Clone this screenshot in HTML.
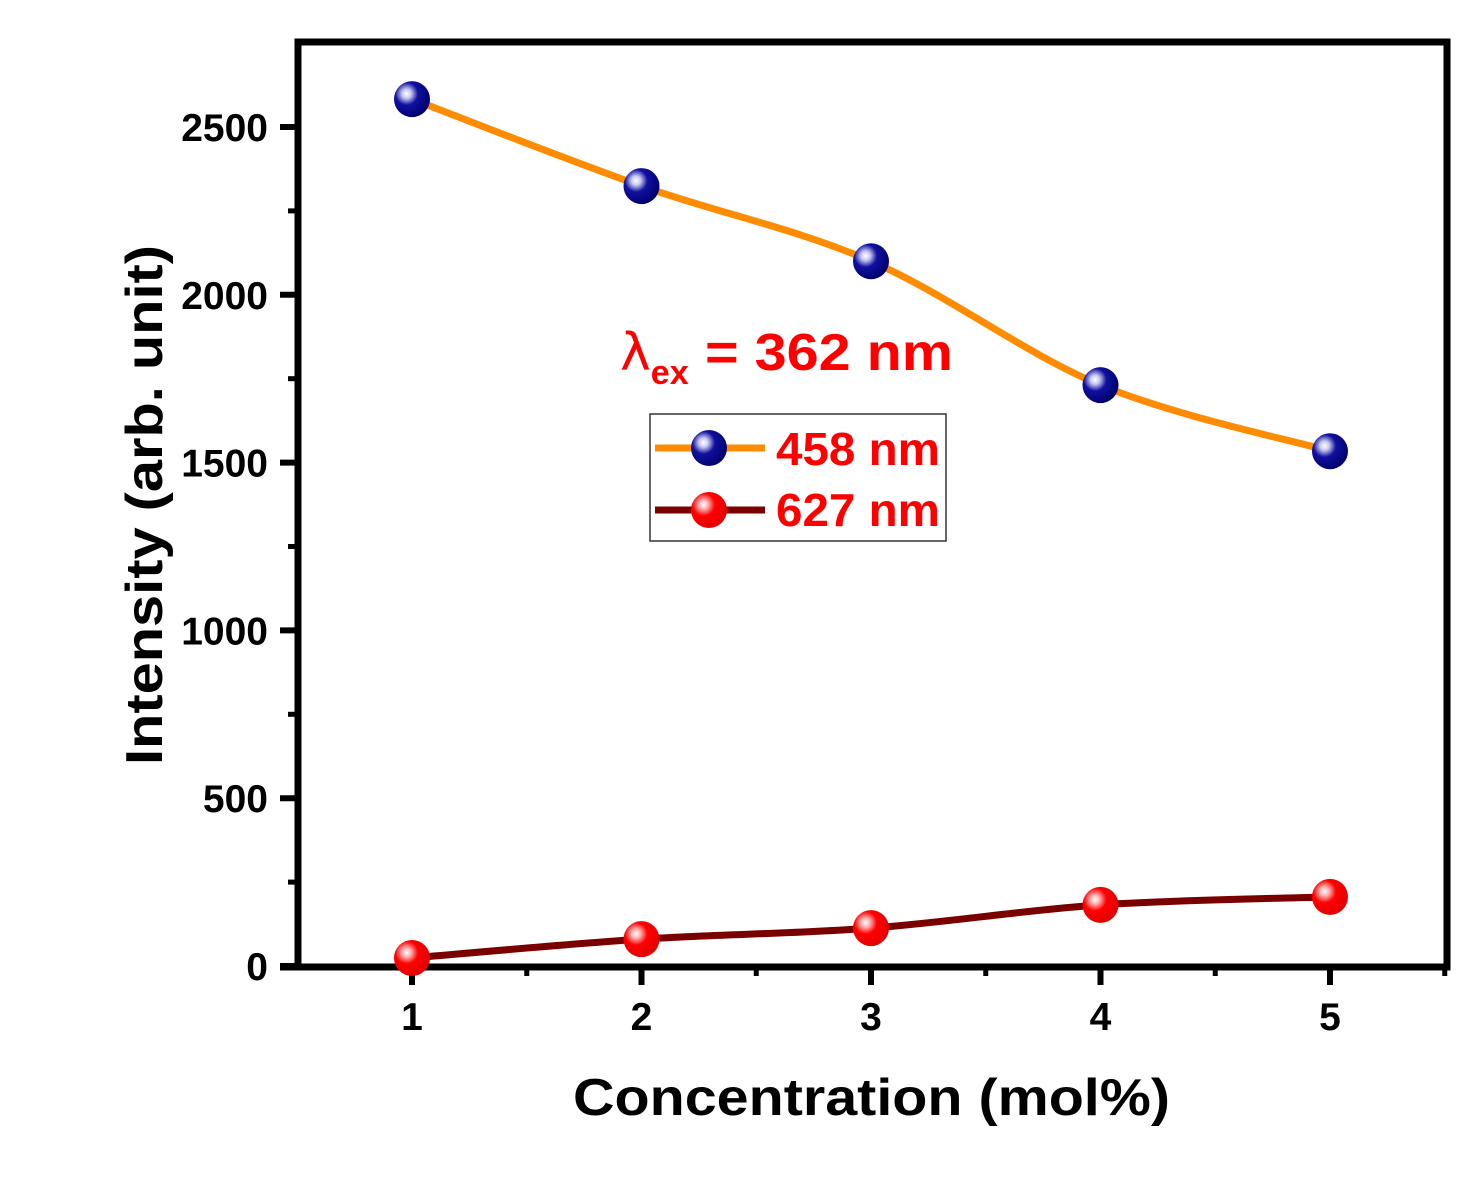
<!DOCTYPE html>
<html><head><meta charset="utf-8"><style>
body{margin:0;background:#fff;}
text{font-family:"Liberation Sans",Arial,sans-serif;font-weight:bold;}
</style></head><body>
<svg id="chart" width="1483" height="1181" xmlns="http://www.w3.org/2000/svg">
<defs>
<radialGradient id="gBlue" cx="0.35" cy="0.35" r="0.7"><stop offset="0" stop-color="#fff"/><stop offset="0.18" stop-color="#c8c8f0"/><stop offset="0.45" stop-color="#1010a0"/><stop offset="1" stop-color="#00006a"/></radialGradient>
<radialGradient id="gRed" cx="0.35" cy="0.35" r="0.7"><stop offset="0" stop-color="#fff"/><stop offset="0.18" stop-color="#ffb0b0"/><stop offset="0.45" stop-color="#ff0000"/><stop offset="1" stop-color="#e00000"/></radialGradient>
</defs>
<g id="axes"></g>
<g id="series"></g>
<text x="573" y="1115" font-size="52" textLength="597" lengthAdjust="spacingAndGlyphs">Concentration (mol%)</text>
<text transform="translate(162,765) rotate(-90)" font-size="52" textLength="520" lengthAdjust="spacingAndGlyphs">Intensity (arb. unit)</text>
<text x="620" y="370" font-size="52" fill="#ff0000"><tspan font-family="DejaVu Sans,sans-serif" font-weight="normal">λ</tspan><tspan font-size="34" dy="14">ex</tspan><tspan dy="-14" x="705" textLength="248" lengthAdjust="spacingAndGlyphs">= 362 nm</tspan></text>
<g>
<rect x="650" y="414" width="296" height="127" fill="#fff" stroke="#333" stroke-width="1.5"/>
<line x1="655" y1="448" x2="765" y2="448" stroke="#ff8c00" stroke-width="7"/>
<circle cx="709" cy="448" r="18" fill="url(#gBlue)"/>
<text x="776" y="465" font-size="46" fill="#ff0000" textLength="164" lengthAdjust="spacingAndGlyphs">458 nm</text>
<line x1="655" y1="510" x2="765" y2="510" stroke="#7a0000" stroke-width="7"/>
<circle cx="709" cy="510" r="18" fill="url(#gRed)"/>
<text x="776" y="526" font-size="46" fill="#ff0000" textLength="164" lengthAdjust="spacingAndGlyphs">627 nm</text>
</g>
</svg>
<script>
const categories=[1,2,3,4,5];
const series458=[2583,2324,2100,1731,1534];
const series627=[24,80,113,182,206];
const yTicks=[0,500,1000,1500,2000,2500];
const xTicks=[1,2,3,4,5];
const NS="http://www.w3.org/2000/svg";
const L=298,R=1447,T=42,B=967;
const xs=v=>412+(v-1)*229.5;
const ys=v=>966-v*0.3356;
function mk(tag,attrs,parent){const e=document.createElementNS(NS,tag);for(const k in attrs)e.setAttribute(k,attrs[k]);parent.appendChild(e);return e;}
const ax=document.getElementById('axes');
const fr=mk('rect',{x:L,y:T,width:R-L,height:B-T,fill:'none',stroke:'#000','stroke-width':7},ax);


mk('line',{x1:280,y1:B,x2:L,y2:B,stroke:'#000','stroke-width':7},ax);
yTicks.forEach(v=>{const y=ys(v);
mk('line',{x1:280,y1:y,x2:L,y2:y,stroke:'#000','stroke-width':6},ax);
const t=mk('text',{x:268,y:y+14,'text-anchor':'end','font-size':39},ax);t.textContent=v;


if(v<2500){mk('line',{x1:288,y1:ys(v+250),x2:L,y2:ys(v+250),stroke:'#000','stroke-width':5},ax);}
});
xTicks.forEach(v=>{const x=xs(v);
mk('line',{x1:x,y1:B,x2:x,y2:B+18,stroke:'#000','stroke-width':6},ax);
const t=mk('text',{x:x,y:1030,'text-anchor':'middle','font-size':39},ax);t.textContent=v;


mk('line',{x1:xs(v+0.5),y1:B,x2:xs(v+0.5),y2:B+9,stroke:'#000','stroke-width':5},ax);
});
function smooth(pts){let d=`M${pts[0][0]},${pts[0][1]}`;for(let i=0;i<pts.length-1;i++){const p0=pts[Math.max(i-1,0)],p1=pts[i],p2=pts[i+1],p3=pts[Math.min(i+2,pts.length-1)];
d+=` C${p1[0]+(p2[0]-p0[0])/6},${p1[1]+(p2[1]-p0[1])/6} ${p2[0]-(p3[0]-p1[0])/6},${p2[1]-(p3[1]-p1[1])/6} ${p2[0]},${p2[1]}`;}return d;}
const sg=document.getElementById('series');
[[series458,'#ff8c00','url(#gBlue)','458'],[series627,'#7a0000','url(#gRed)','627']].forEach(([vals,col,fill,nm])=>{
const pts=categories.map((c,i)=>[xs(c),ys(vals[i])]);
const p=mk('path',{d:smooth(pts),fill:'none',stroke:col,'stroke-width':7},sg);


pts.forEach(pt=>{const c=mk('circle',{cx:pt[0],cy:pt[1],r:18,fill:fill},sg);

});
});
</script>
</body></html>
